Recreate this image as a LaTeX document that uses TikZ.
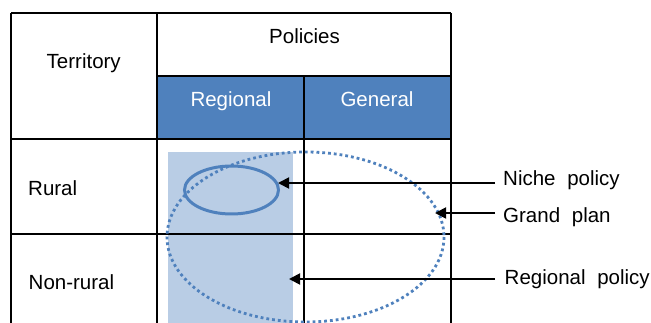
\documentclass[tikz,border=0pt]{standalone}
\usepackage{fontspec}
\setmainfont{Liberation Sans}
\usetikzlibrary{arrows.meta}
\definecolor{hdrblue}{HTML}{4F81BD}
\definecolor{paleblue}{HTML}{B9CDE5}
% label font with wider word gaps
\newcommand{\lblfont}{\fontsize{20.5}{24}\selectfont\spaceskip=0.57em plus 0pt\relax}
\begin{document}
\begin{tikzpicture}[x=1pt,y=-1pt,
  grid/.style={line width=2pt, draw=black},
  txt/.style={font=\fontsize{20.5}{24}\selectfont, inner sep=0pt},
  hdr/.style={txt, text=white},
  lbl/.style={font=\lblfont, inner sep=0pt, anchor=base west},
  pointer/.style={line width=1.8pt, -{Triangle[length=11pt,width=11pt]}},
  niche/.style={draw=hdrblue, line width=3pt},
  grand/.style={draw=hdrblue, line width=2.8pt, dash pattern=on 2.8pt off 3pt}]
\useasboundingbox (0,0) rectangle (651,323);

% header fill and regional band
\fill[hdrblue] (157,76) rectangle (451,139);
\fill[paleblue] (168,152) rectangle (293,323);

% table rules
\draw[grid] (11,13) -- (451,13);
\draw[grid] (157,76) -- (451,76);
\draw[grid] (11,139) -- (451,139);
\draw[grid] (11,234) -- (451,234);
\draw[grid] (11,13) -- (11,323);
\draw[grid] (157,13) -- (157,323);
\draw[grid] (304,76) -- (304,323);
\draw[grid] (451,13) -- (451,323);

% cell texts
\node[txt, anchor=base west] (territory) at (46.5,68.5) {Territory};
\node[txt, anchor=base] (policies) at (304.5,44) {Policies};
\node[hdr, anchor=base] (regional) at (231,106.5) {Regional};
\node[hdr, anchor=base] (general) at (377,106.5) {General};
\node[txt, anchor=base west] (rural) at (28,196) {Rural};
\node[txt, anchor=base west] (nonrural) at (28.5,289.5) {Non-rural};

% policy scopes
\draw[niche] (231.5,190) ellipse [x radius=47, y radius=24];
\draw[grand] (305.5,237) ellipse [x radius=138.5, y radius=85];

% arrow targets
\coordinate (niche-tip) at (278,183);
\coordinate (grand-tip) at (435,213);
\coordinate (regional-tip) at (289,279);

% labels and pointers
\node[lbl] (niche-lbl) at (503,186) {Niche policy};
\node[lbl] (grand-lbl) at (503,222.5) {Grand plan};
\node[lbl] (regional-lbl) at (504.5,285) {Regional policy};

\draw[pointer] ([xshift=-8pt]niche-lbl.west |- niche-tip) -- (niche-tip);
\draw[pointer] ([xshift=-8pt]grand-lbl.west |- grand-tip) -- (grand-tip);
\draw[pointer] ([xshift=-9.5pt]regional-lbl.west |- regional-tip) -- (regional-tip);
\end{tikzpicture}
\end{document}
